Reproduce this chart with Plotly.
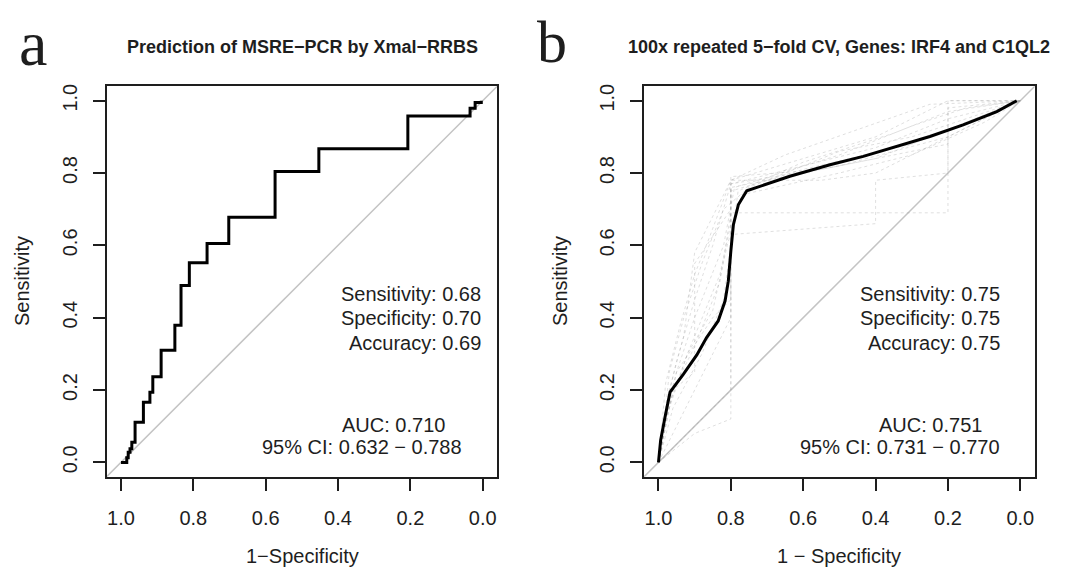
import plotly.graph_objects as go

# ---------------- data ----------------
tick_vals = [0.0, 0.2, 0.4, 0.6, 0.8, 1.0]
tick_text = ["0.0", "0.2", "0.4", "0.6", "0.8", "1.0"]

# Panel a: empirical ROC (specificity, sensitivity) step vertices
a_spec = [1.000, 0.984, 0.984, 0.980, 0.980, 0.975, 0.975, 0.970, 0.970, 0.961, 0.961,
          0.938, 0.938, 0.920, 0.920, 0.912, 0.912, 0.889, 0.889, 0.851, 0.851, 0.834,
          0.834, 0.811, 0.811, 0.762, 0.762, 0.702, 0.702, 0.574, 0.574, 0.453, 0.453,
          0.207, 0.207, 0.035, 0.035, 0.021, 0.021, 0.004, 0.004]
a_sens = [0.000, 0.000, 0.013, 0.013, 0.028, 0.028, 0.038, 0.038, 0.056, 0.056, 0.111,
          0.111, 0.166, 0.166, 0.194, 0.194, 0.237, 0.237, 0.310, 0.310, 0.379, 0.379,
          0.489, 0.489, 0.552, 0.552, 0.605, 0.605, 0.678, 0.678, 0.804, 0.804, 0.867,
          0.867, 0.958, 0.958, 0.979, 0.979, 0.995, 0.995, 1.000]
a_stats = ["Sensitivity: 0.68", "Specificity: 0.70", "Accuracy: 0.69"]
a_auc = ["AUC: 0.710", "95% CI: 0.632 \u2212 0.788"]

# Panel b: averaged ROC curve
b_avg_spec = [1.000, 0.994, 0.982, 0.968, 0.931, 0.894, 0.867, 0.835, 0.816, 0.807, 0.800,
              0.793, 0.779, 0.756, 0.637, 0.526, 0.434, 0.342, 0.250, 0.158, 0.065, 0.010]
b_avg_sens = [0.000, 0.061, 0.125, 0.194, 0.244, 0.297, 0.345, 0.391, 0.446, 0.501, 0.584,
              0.657, 0.713, 0.751, 0.791, 0.823, 0.846, 0.874, 0.901, 0.933, 0.970, 1.000]
# Panel b: a selection of the individual repeated-CV curves (faint)
b_rep_spec = [
    [1.0, 0.97, 0.93, 0.90, 0.80, 0.60, 0.40, 0.20, 0.0],
    [1.0, 0.98, 0.95, 0.90, 0.85, 0.80, 0.60, 0.40, 0.20, 0.0],
    [1.0, 0.95, 0.90, 0.85, 0.80, 0.80, 0.50, 0.20, 0.0],
    [1.0, 0.90, 0.80, 0.80, 0.60, 0.40, 0.20, 0.0],
    [1.0, 0.96, 0.90, 0.90, 0.80, 0.80, 0.55, 0.40, 0.20, 0.20, 0.0],
    [1.0, 0.95, 0.85, 0.80, 0.80, 0.40, 0.40, 0.20, 0.20, 0.0],
    [1.0, 0.97, 0.90, 0.83, 0.80, 0.20, 0.20, 0.0],
    [1.0, 0.99, 0.95, 0.90, 0.82, 0.79, 0.50, 0.30, 0.15, 0.0],
    [1.0, 0.98, 0.92, 0.85, 0.81, 0.77, 0.50, 0.30, 0.10, 0.0],
    [1.0, 0.96, 0.88, 0.82, 0.80, 0.78, 0.60, 0.35, 0.20, 0.0],
    [1.0, 0.99, 0.97, 0.93, 0.88, 0.82, 0.75, 0.50, 0.30, 0.0],
    [1.0, 0.80, 0.80, 0.60, 0.30, 0.10, 0.0],
    [1.0, 0.98, 0.94, 0.90, 0.86, 0.80, 0.65, 0.45, 0.25, 0.0],
    [1.0, 0.97, 0.92, 0.87, 0.83, 0.80, 0.80, 0.55, 0.20, 0.20, 0.0],
]
b_rep_sens = [
    [0.0, 0.20, 0.35, 0.58, 0.78, 0.84, 0.90, 1.00, 1.0],
    [0.0, 0.15, 0.28, 0.45, 0.60, 0.77, 0.82, 0.87, 0.95, 1.0],
    [0.0, 0.10, 0.20, 0.30, 0.40, 0.77, 0.82, 0.90, 1.0],
    [0.0, 0.08, 0.12, 0.76, 0.80, 0.84, 0.92, 1.0],
    [0.0, 0.20, 0.25, 0.55, 0.70, 0.78, 0.78, 0.80, 0.90, 1.00, 1.0],
    [0.0, 0.25, 0.40, 0.45, 0.63, 0.66, 0.78, 0.80, 0.92, 1.0],
    [0.0, 0.18, 0.32, 0.50, 0.69, 0.69, 0.90, 1.0],
    [0.0, 0.10, 0.25, 0.40, 0.60, 0.76, 0.85, 0.93, 0.98, 1.0],
    [0.0, 0.12, 0.30, 0.42, 0.60, 0.74, 0.80, 0.85, 0.94, 1.0],
    [0.0, 0.15, 0.30, 0.45, 0.60, 0.75, 0.83, 0.91, 0.97, 1.0],
    [0.0, 0.05, 0.25, 0.40, 0.55, 0.70, 0.76, 0.86, 0.90, 1.0],
    [0.0, 0.20, 0.75, 0.81, 0.88, 0.96, 1.0],
    [0.0, 0.22, 0.38, 0.52, 0.62, 0.78, 0.85, 0.92, 0.99, 1.0],
    [0.0, 0.16, 0.30, 0.42, 0.52, 0.66, 0.79, 0.81, 0.88, 0.98, 1.0],
]
b_stats = ["Sensitivity: 0.75", "Specificity: 0.75", "Accuracy: 0.75"]
b_auc = ["AUC: 0.751", "95% CI: 0.731 \u2212 0.770"]

# ---------------- figure ----------------
W, H = 1075, 569
OFF = 8  # page body margin offset of the plot div

def fx(p):
    return (p - OFF) / W
def fy(p):
    return 1 - (p - OFF) / H

FONT = "Liberation Sans, Arial, sans-serif"
SERIF = "Liberation Serif, Times New Roman, serif"
INK = "#1e1e1e"
DIAG = "#c4c4c4"

fig = go.Figure()

# diagonal reference lines
for xr, yr in (("x", "y"), ("x2", "y2")):
    fig.add_trace(go.Scatter(x=[1.04, -0.04], y=[-0.04, 1.04], mode="lines",
                             line=dict(color=DIAG, width=1.5), xaxis=xr, yaxis=yr,
                             hoverinfo="skip"))

# panel a ROC
fig.add_trace(go.Scatter(x=a_spec, y=a_sens, mode="lines",
                         line=dict(color="#000000", width=3), xaxis="x", yaxis="y"))

# panel b individual curves
for s, t in zip(b_rep_spec, b_rep_sens):
    fig.add_trace(go.Scatter(x=s, y=t, mode="lines",
                             line=dict(color="rgba(150,150,150,0.3)", width=1, dash="dot"),
                             xaxis="x2", yaxis="y2", hoverinfo="skip"))
# panel b average
fig.add_trace(go.Scatter(x=b_avg_spec, y=b_avg_sens, mode="lines",
                         line=dict(color="#000000", width=3), xaxis="x2", yaxis="y2"))

axis_common = dict(showline=True, mirror=True, linecolor=INK, linewidth=1.5,
                   ticks="outside", ticklen=12, tickwidth=1.5, tickcolor=INK,
                   showgrid=False, zeroline=False,
                   tickvals=tick_vals, ticktext=tick_text,
                   tickfont=dict(family=FONT, size=20, color=INK))

ydom = [fy(476.5), fy(84.5)]
fig.update_layout(
    width=W, height=H, margin=dict(l=0, r=0, t=0, b=0),
    paper_bgcolor="white", plot_bgcolor="white", showlegend=False,
    xaxis=dict(domain=[fx(106.5), fx(497.2)], range=[1.04, -0.04], anchor="y",
               ticklabelstandoff=10, **axis_common),
    yaxis=dict(domain=ydom, range=[-0.04, 1.04], anchor="x", tickangle=-90,
               ticklabelstandoff=8, **axis_common),
    xaxis2=dict(domain=[fx(644.0), fx(1034.8)], range=[1.04, -0.04], anchor="y2",
                ticklabelstandoff=10, **axis_common),
    yaxis2=dict(domain=ydom, range=[-0.04, 1.04], anchor="x2", tickangle=-90,
                ticklabelstandoff=8, **axis_common),
)

ann = []
def txt(text, x, y, xref="paper", yref="paper", size=20, bold=False, family=FONT,
        xanchor="center", angle=0):
    ann.append(dict(text=("<b>%s</b>" % text) if bold else text, x=x, y=y,
                    xref=xref, yref=yref, showarrow=False, xanchor=xanchor,
                    yanchor="middle", textangle=angle,
                    font=dict(family=family, size=size, color=INK)))

# panel letters and titles
txt("a", fx(33), fy(42), size=64, family=SERIF)
txt("b", fx(552), fy(40), size=60, family=SERIF)
txt("Prediction of MSRE\u2212PCR by Xmal\u2212RRBS", fx(302), fy(45), size=18, bold=True)
txt("100x repeated 5\u2212fold CV, Genes: IRF4 and C1QL2", fx(839), fy(45), size=18, bold=True)

# axis titles
txt("1\u2212Specificity", fx(302), fy(556))
txt("1 \u2212 Specificity", fx(839), fy(556))
txt("Sensitivity", fx(22), fy(280), angle=-90)
txt("Sensitivity", fx(560), fy(280), angle=-90)

# stats text
stat_y = [0.465, 0.399, 0.330]
for s, yv in zip(a_stats, stat_y):
    txt(s, 0.0, yv, xref="x", yref="y", xanchor="right")
for s, yv in zip(b_stats, stat_y):
    txt(s, 0.05, yv, xref="x2", yref="y2", xanchor="right")
auc_x = [0.247, 0.333]
auc_y = [0.102, 0.043]
for s, xv, yv in zip(a_auc, auc_x, auc_y):
    txt(s, xv, yv, xref="x", yref="y")
for s, xv, yv in zip(b_auc, auc_x, auc_y):
    txt(s, xv, yv, xref="x2", yref="y2")

fig.update_layout(annotations=ann)
fig.write_html("out.html")
